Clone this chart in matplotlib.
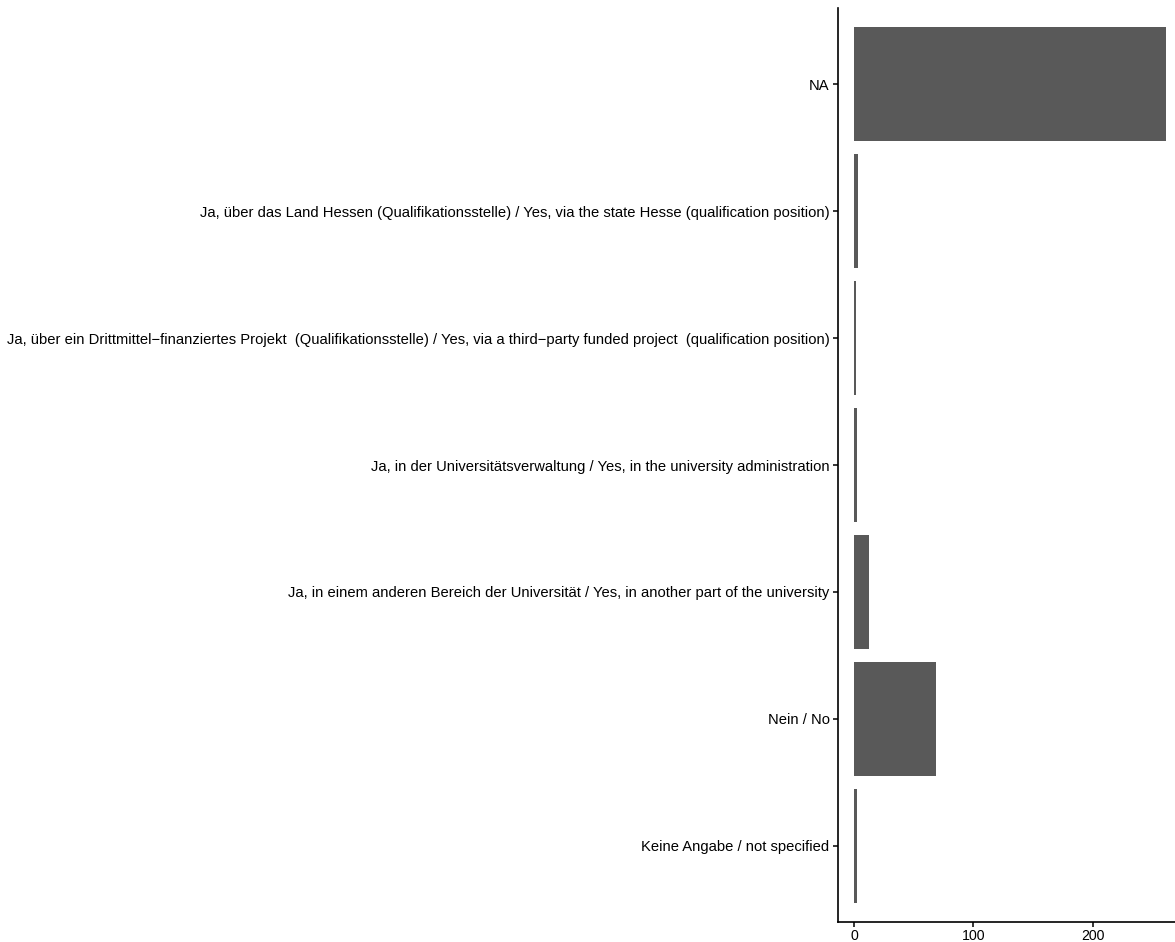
import matplotlib.pyplot as plt
import numpy as np

plt.rcParams['font.family'] = ['Liberation Sans', 'DejaVu Sans']

# Categories from bottom to top
categories = [
    "Keine Angabe / not specified",
    "Nein / No",
    "Ja, in einem anderen Bereich der Universität / Yes, in another part of the university",
    "Ja, in der Universitätsverwaltung / Yes, in the university administration",
    "Ja, über ein Drittmittel\u2212finanziertes Projekt  (Qualifikationsstelle) / Yes, via a third\u2212party funded project  (qualification position)",
    "Ja, über das Land Hessen (Qualifikationsstelle) / Yes, via the state Hesse (qualification position)",
    "NA",
]
counts = [2.5, 69, 12.6, 2.2, 1.7, 3.3, 261.5]
xticks = [0, 100, 200]

fig = plt.figure(figsize=(11.75, 9.42), dpi=100)
ax = fig.add_axes([838.3 / 1175, 20 / 942, (1181.8 - 838.3) / 1175, 914 / 942])

ypos = np.arange(len(categories))
ax.barh(ypos, counts, height=0.9, color='#595959')

ax.set_yticks(ypos)
ax.set_yticklabels(categories)
ax.set_xticks(xticks)
ax.set_xlim(-0.05 * max(counts), 1.05 * max(counts))
ax.set_ylim(-0.6, len(categories) - 0.4)

for s in ['top', 'right']:
    ax.spines[s].set_visible(False)
for s in ['left', 'bottom']:
    ax.spines[s].set_linewidth(1.2)
    ax.spines[s].set_color('black')

ax.tick_params(axis='both', length=3.8, width=1.1, color='black',
               labelsize=10.6, labelcolor='black')
ax.tick_params(axis='y', pad=2.5)
ax.tick_params(axis='x', pad=1.0, labelsize=10.2)

fig.savefig('out.png', dpi=100)
